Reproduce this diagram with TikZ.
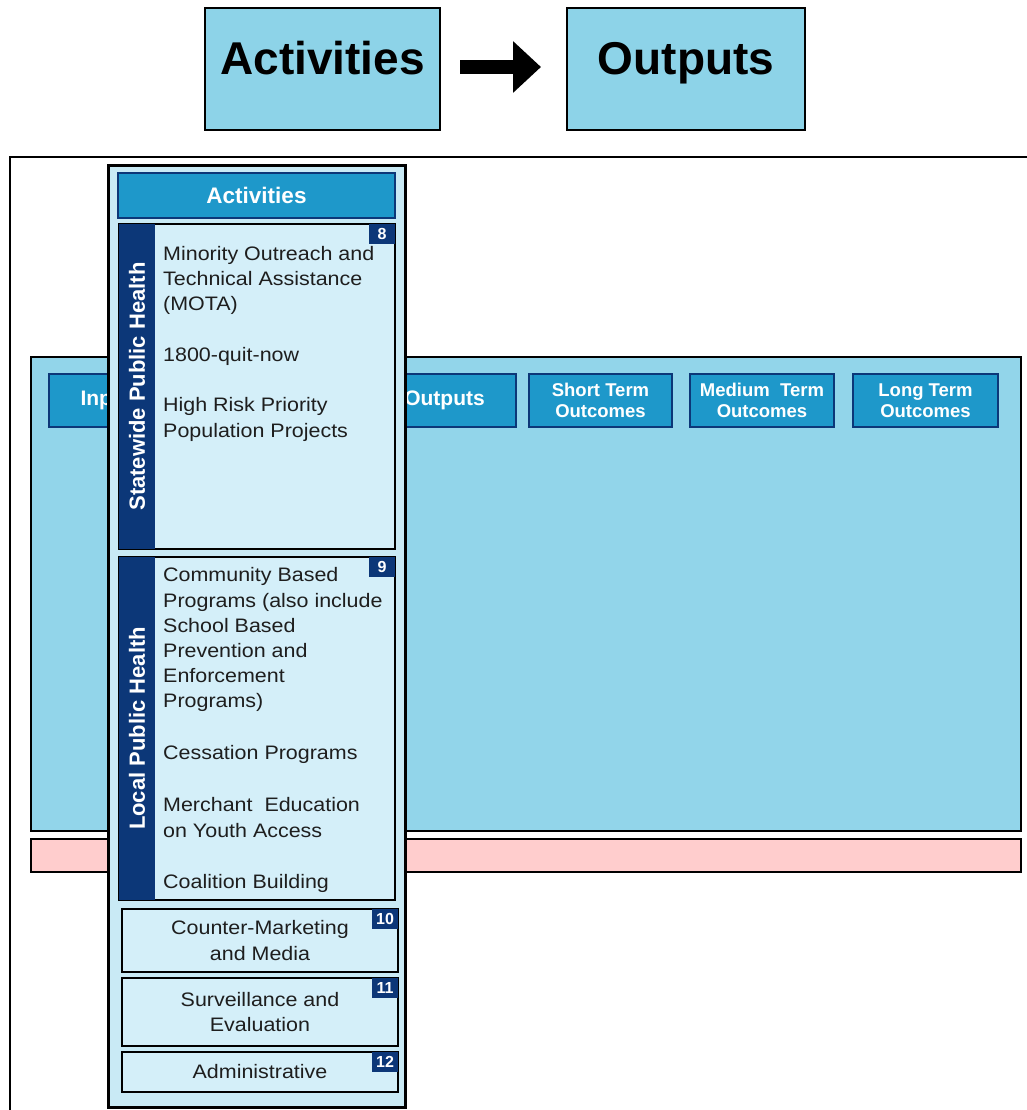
\documentclass[tikz,border=0pt]{standalone}
\usepackage{fontspec}
\setmainfont{Liberation Sans}
\newfontfamily\bodyfont[FakeStretch=1.1]{Liberation Sans}
\usetikzlibrary{arrows.meta}

\definecolor{topblue}{HTML}{8DD3E8}
\definecolor{panelblue}{HTML}{92D5EA}
\definecolor{hdrblue}{HTML}{1E98CA}
\definecolor{navy}{HTML}{0C3778}
\definecolor{colfill}{HTML}{C9EAF5}
\definecolor{secfill}{HTML}{D4EFF9}
\definecolor{pinkbar}{HTML}{FFCDCD}
\definecolor{ink}{HTML}{1E1E1E}

\tikzset{
  topbox/.style={draw=black, line width=2pt, fill=topblue, outer sep=0pt, inner sep=0pt,
    minimum height=122pt, font=\bfseries\fontsize{46}{50}\selectfont,
    text height=33pt, text depth=21pt},
  hdrbox/.style={draw=navy, line width=2pt, fill=hdrblue, text=white, outer sep=0pt,
    inner sep=0pt, minimum height=53pt, align=center,
    font=\bfseries\fontsize{18.5}{21}\selectfont},
  hdrbig/.style={hdrbox, font=\bfseries\fontsize{21}{23}\selectfont},
  colbox/.style={draw=black, line width=3pt, fill=colfill, outer sep=0pt, inner sep=0pt},
  secbox/.style={draw=black, line width=2pt, fill=secfill, outer sep=0pt, inner sep=0pt},
  strip/.style={fill=navy, text=white, outer sep=0pt, inner sep=0pt, rotate=90,
    minimum height=36pt, font=\bfseries\fontsize{22}{24}\selectfont},
  badge/.style={fill=navy, text=white, outer sep=0pt, inner sep=0pt,
    minimum width=26pt, minimum height=20pt, font=\bfseries\fontsize{16}{17}\selectfont},
  bodytext/.style={text=ink, inner sep=0pt, align=left,
    font=\bodyfont\fontsize{19.5}{25.2}\selectfont},
  centertext/.style={secbox, text=ink, align=center,
    font=\bodyfont\fontsize{19.5}{25.2}\selectfont},
}

\begin{document}
\begin{tikzpicture}[x=1pt, y=-1pt]
\useasboundingbox (0,0) rectangle (1027,1110);

% heading: activities lead to outputs
\node[topbox, minimum width=235pt] (actTop) at (322.5,69) {Activities};
\node[topbox, minimum width=238pt] (outTop) at (686,69) {Outputs};
\draw[line width=14pt, -{Triangle[length=28pt,width=50pt]}]
  ([xshift=20pt,yshift=2pt]actTop.east) -- ([xshift=-26pt,yshift=2pt]outTop.west);

% logic model frame
\draw[line width=2pt] (10,1116) -- (10,157) -- (1034,157);
\draw[line width=2pt, fill=panelblue] (31,357) rectangle (1021,831);
\draw[line width=2pt, fill=pinkbar] (31,839) rectangle (1021,872);

% column headers
\node[hdrbig, minimum width=126pt] (inputs) at (112,400.5) {Inputs};
\node[hdrbig, minimum width=143pt] (outputs) at (444.5,400.5) {Outputs};
\node[hdrbox, minimum width=143pt] (short) at (600.5,400.5) {Short Term\\Outcomes};
\node[hdrbox, minimum width=144pt] (medium) at (762,400.5) {Medium\ \ Term\\Outcomes};
\node[hdrbox, minimum width=145pt] (long) at (925.5,400.5) {Long Term\\Outcomes};

% activities column
\node[colbox, anchor=north west, minimum width=297pt, minimum height=941pt] (col) at (108,166) {};
\node[hdrbig, minimum width=277pt, minimum height=45pt, font=\bfseries\fontsize{22.5}{24}\selectfont]
  (colTitle) at (256.5,195.5) {Activities};

% statewide public health (text anchored at the baseline of its last line)
\node[secbox, anchor=north west, minimum width=276pt, minimum height=325pt] (state) at (119,224) {};
\node[strip, minimum width=325pt] (stateLbl) at (137,386.5) {Statewide Public Health};
\node[badge, anchor=north east] (b8) at (state.north east) {8};
\node[bodytext, anchor=base west] (stateTxt) at (163,437)
  {Minority Outreach and\\Technical Assistance\\(MOTA)\\[26pt]1800-quit-now\\[25pt]High Risk Priority\\Population Projects};

% local public health
\node[secbox, anchor=north west, minimum width=276pt, minimum height=343pt] (local) at (119,557) {};
\node[strip, minimum width=343pt] (localLbl) at (137,728.5) {Local Public Health};
\node[badge, anchor=north east] (b9) at (local.north east) {9};
\node[bodytext, anchor=base west] (localTxt) at (163,888)
  {Community Based\\Programs (also include\\School Based\\Prevention and\\Enforcement\\Programs)\\[26.8pt]Cessation Programs\\[26.8pt]Merchant\ \ Education\\on Youth Access\\[25.8pt]Coalition Building};

% remaining activity groups
\node[centertext, minimum width=276pt, minimum height=63pt] (media) at (260,940.5) {Counter-Marketing\\and Media};
\node[badge, anchor=north east] (b10) at (media.north east) {10};
\node[centertext, minimum width=276pt, minimum height=68pt] (surv) at (260,1012) {Surveillance and\\Evaluation};
\node[badge, anchor=north east] (b11) at (surv.north east) {11};
\node[centertext, minimum width=276pt, minimum height=40pt] (admin) at (260,1072) {Administrative};
\node[badge, anchor=north east] (b12) at (admin.north east) {12};
\end{tikzpicture}
\end{document}
